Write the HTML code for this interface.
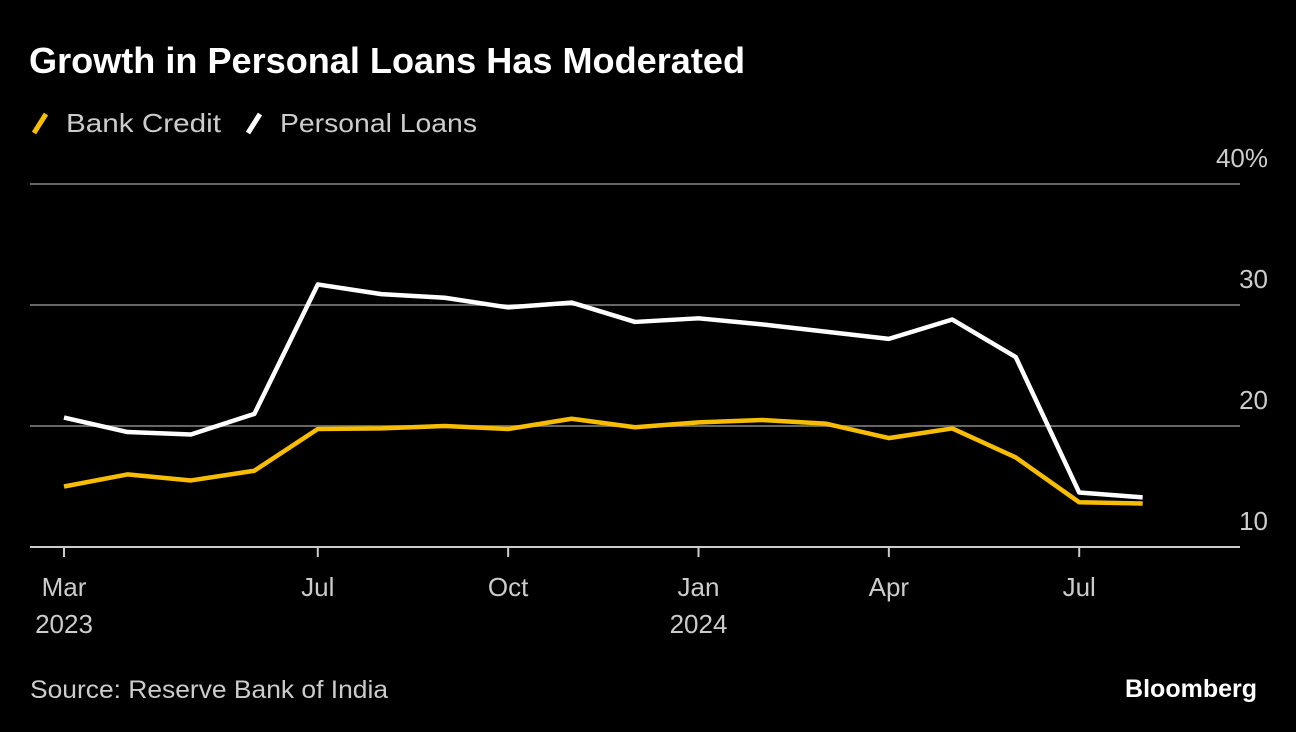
<!DOCTYPE html>
<html><head><meta charset="utf-8"><style>
body{margin:0;background:#000;width:1296px;height:732px;overflow:hidden;font-family:"Liberation Sans",sans-serif;}
svg{display:block}
</style></head><body>
<svg id="chart" width="1296" height="732">
<text x="29" y="73" fill="#fff" font-size="36" font-weight="bold" textLength="716" lengthAdjust="spacingAndGlyphs">Growth in Personal Loans Has Moderated</text>
<g>
<line x1="34" y1="133" x2="46" y2="114" stroke="#f8bd00" stroke-width="5"/>
<text x="66" y="132" fill="#ccc" font-size="26" textLength="155" lengthAdjust="spacingAndGlyphs">Bank Credit</text>
<line x1="248" y1="133" x2="260" y2="114" stroke="#fff" stroke-width="5"/>
<text x="280" y="132" fill="#ccc" font-size="26" textLength="197" lengthAdjust="spacingAndGlyphs">Personal Loans</text>
</g>
<g id="grid"></g><g id="xaxis"></g><g id="series"></g>
<text x="30" y="698" fill="#ccc" font-size="25" textLength="358" lengthAdjust="spacingAndGlyphs">Source: Reserve Bank of India</text>
<text x="1257" y="697" fill="#fff" font-size="25" font-weight="bold" text-anchor="end">Bloomberg</text>
</svg>
<script>
const yTicks=[10,20,30,40];
const yTickLabels=["10","20","30","40%"];
const xTickIdx=[0,4,7,10,13,16];
const xTickLabels=["Mar","Jul","Oct","Jan","Apr","Jul"];
const xYearLabels=["2023","","","2024","",""];
const bankCredit=[15.0,16.0,15.5,16.3,19.75,19.8,20.0,19.75,20.6,19.9,20.3,20.5,20.2,19.0,19.8,17.4,13.7,13.6];
const personalLoans=[20.7,19.5,19.3,21.0,31.7,30.9,30.6,29.8,30.2,28.6,28.9,28.4,27.8,27.2,28.8,25.7,14.5,14.1];
const NS="http://www.w3.org/2000/svg";
const y=v=>547-(v-10)*12.1;
const x=i=>64+i*63.45;
function mk(t,a,p){const e=document.createElementNS(NS,t);for(const k in a)e.setAttribute(k,a[k]);p.appendChild(e);return e;}
const grid=document.getElementById('grid');
yTicks.forEach((v,i)=>{
 const l=mk('line',{x1:30,x2:1240,y1:y(v),y2:y(v),stroke:i==0?'#ccc':'#666','stroke-width':2},grid);
 
 
 const t=mk('text',{x:1268,y:y(v)-17,fill:'#ccc','font-size':26,'text-anchor':'end'},grid);
 t.textContent=yTickLabels[i];
 
 
});
const xa=document.getElementById('xaxis');
xTickIdx.forEach((idx,i)=>{
 const tk=mk('line',{x1:x(idx),x2:x(idx),y1:547,y2:557,stroke:'#ccc','stroke-width':2},xa);
 
 
 const t=mk('text',{x:x(idx),y:596,fill:'#ccc','font-size':26,'text-anchor':'middle'},xa);
 t.textContent=xTickLabels[i];
 
 
 if(xYearLabels[i]){
  const t2=mk('text',{x:x(idx),y:633,fill:'#ccc','font-size':26,'text-anchor':'middle'},xa);
  t2.textContent=xYearLabels[i];
  
  
 }
});
const sg=document.getElementById('series');
[[bankCredit,'#f8bd00','bank-credit-line'],[personalLoans,'#fff','personal-loans-line']].forEach(([d,c,n])=>{
 const p=mk('polyline',{points:d.map((v,i)=>x(i)+','+y(v)).join(' '),fill:'none',stroke:c,'stroke-width':4.5,'stroke-linejoin':'round'},sg);
 
 
});
</script>
</body></html>
